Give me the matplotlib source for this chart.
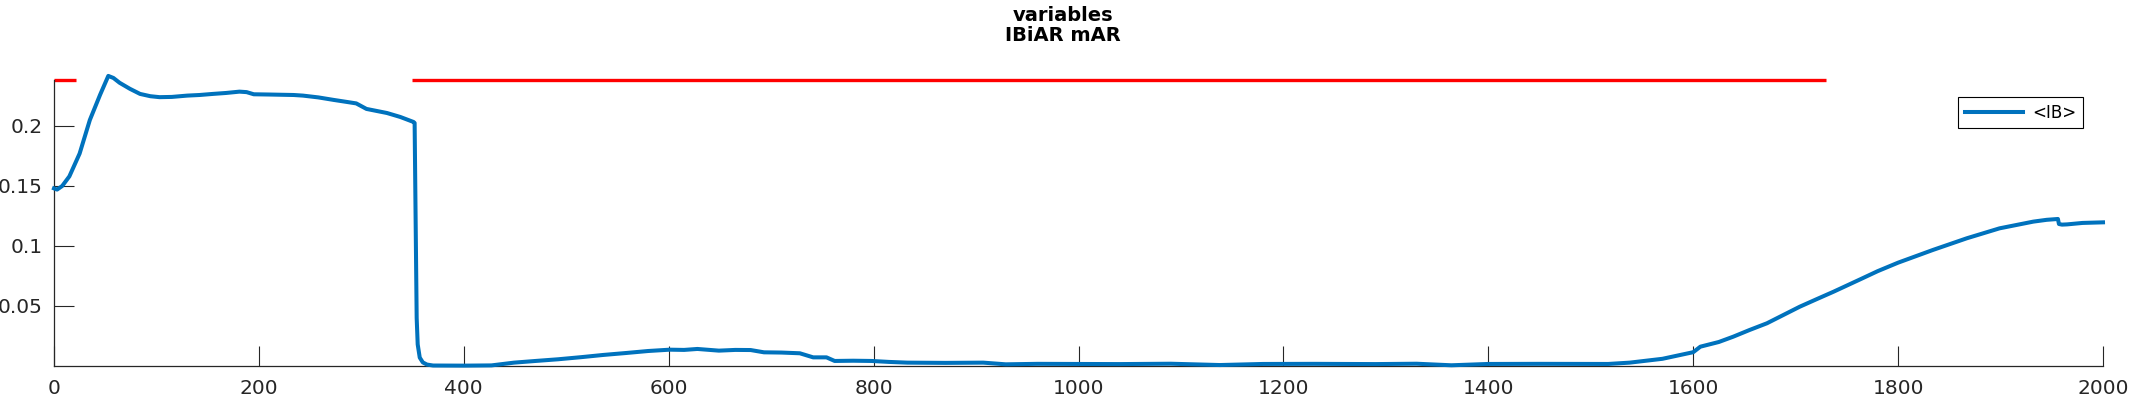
import matplotlib
matplotlib.use('Agg')
import matplotlib.pyplot as plt
import numpy as np

# readings (x = sample index, y = <IB>)
ib_x = [0, 3, 8, 15, 25, 35, 45, 53, 58, 64, 74, 84, 94, 103, 115, 130, 142, 155,
        168, 181, 188, 195, 210, 234, 243, 258, 273, 286, 295, 305, 315, 325, 338,
        351, 352, 353, 354, 355, 357, 360, 364, 370, 400, 427, 449, 470, 492, 515,
        536, 558, 580, 601, 615, 628, 649, 665, 680, 693, 710, 728, 741, 754, 762,
        780, 798, 815, 833, 870, 907, 929, 960, 998, 1040, 1090, 1138, 1180, 1230,
        1290, 1330, 1364, 1400, 1450, 1517, 1538, 1570, 1600, 1607, 1625, 1639,
        1655, 1672, 1688, 1704, 1720, 1737, 1763, 1780, 1800, 1834, 1867, 1899,
        1932, 1945, 1956, 1957, 1960, 1965, 1980, 2000]
ib_y = [0.148, 0.147, 0.150, 0.158, 0.177, 0.205, 0.226, 0.2417, 0.240, 0.236,
        0.231, 0.2267, 0.2248, 0.224, 0.2242, 0.2253, 0.2258, 0.2267, 0.2275,
        0.2286, 0.2282, 0.2264, 0.2262, 0.2258, 0.2253, 0.2238, 0.2217, 0.2200,
        0.2188, 0.2142, 0.2125, 0.2108, 0.2075, 0.2033, 0.2025, 0.120, 0.040,
        0.018, 0.007, 0.003, 0.0012, 0.0004, 0.0003, 0.0005, 0.0028, 0.0042,
        0.0056, 0.0074, 0.0092, 0.0108, 0.0125, 0.0136, 0.0134, 0.0142, 0.0128,
        0.0134, 0.0133, 0.0114, 0.0112, 0.0106, 0.0072, 0.0072, 0.0042, 0.0044,
        0.0042, 0.0034, 0.0028, 0.0026, 0.0028, 0.0014, 0.0018, 0.0017, 0.0016,
        0.0019, 0.0008, 0.0017, 0.0018, 0.0016, 0.0019, 0.0006, 0.0017, 0.0018,
        0.0017, 0.0028, 0.0060, 0.0115, 0.0161, 0.0200, 0.0244, 0.0300, 0.0356,
        0.0425, 0.0494, 0.0555, 0.0619, 0.0722, 0.0790, 0.0861, 0.0967, 0.1064,
        0.1147, 0.1203, 0.1218, 0.1225, 0.1183, 0.1178, 0.1180, 0.1192, 0.1197]

# red marker segments at the top of the axes
seg_starts = [0, 349]
seg_ends = [21, 1730]
seg_level = 0.2383

x_ticks = list(range(0, 2001, 200))
y_ticks = [0.05, 0.1, 0.15, 0.2]
y_labels = ['0.05', '0.1', '0.15', '0.2']

W, H = 2133, 400
fig = plt.figure(figsize=(W / 100, H / 100), dpi=100)
ax = fig.add_axes([54 / W, 34 / H, (2103 - 54) / W, (366 - 80) / H])

for s, e in zip(seg_starts, seg_ends):
    ax.plot([s, e], [seg_level, seg_level], color='#FF0000', lw=2.4,
            solid_capstyle='butt', clip_on=False, zorder=2)

line, = ax.plot(ib_x, ib_y, color='#0072BD', lw=2.9, clip_on=False, zorder=3,
                label='<IB>')

ax.set_xlim(0, 2000)
ax.set_ylim(0, seg_level)
ax.set_xticks(x_ticks)
ax.set_yticks(y_ticks)
ax.set_yticklabels(y_labels)

for side in ['top', 'right']:
    ax.spines[side].set_visible(False)
for side in ['left', 'bottom']:
    ax.spines[side].set_color('#262626')
    ax.spines[side].set_linewidth(0.9)

ax.tick_params(axis='both', direction='in', length=14.4, width=0.8,
               color='#262626', labelcolor='#262626', labelsize=14.5)
ax.tick_params(axis='y', pad=8)
ax.tick_params(axis='x', pad=9)

fig.text(1063 / W, 1 - 6 / H, 'variables\nIBiAR mAR', ha='center', va='top',
         fontsize=14, fontweight='bold', linespacing=1.05, color='black')

leg = ax.legend(handles=[line], loc='upper right',
                bbox_to_anchor=(2083 / W, 1 - 97 / H),
                bbox_transform=fig.transFigure, borderaxespad=0,
                fontsize=12, handlelength=3.5, handletextpad=0.55,
                borderpad=0.4, fancybox=False, framealpha=1)
leg.get_frame().set_edgecolor('black')
leg.get_frame().set_linewidth(0.8)

fig.savefig('out.png', dpi=100)
